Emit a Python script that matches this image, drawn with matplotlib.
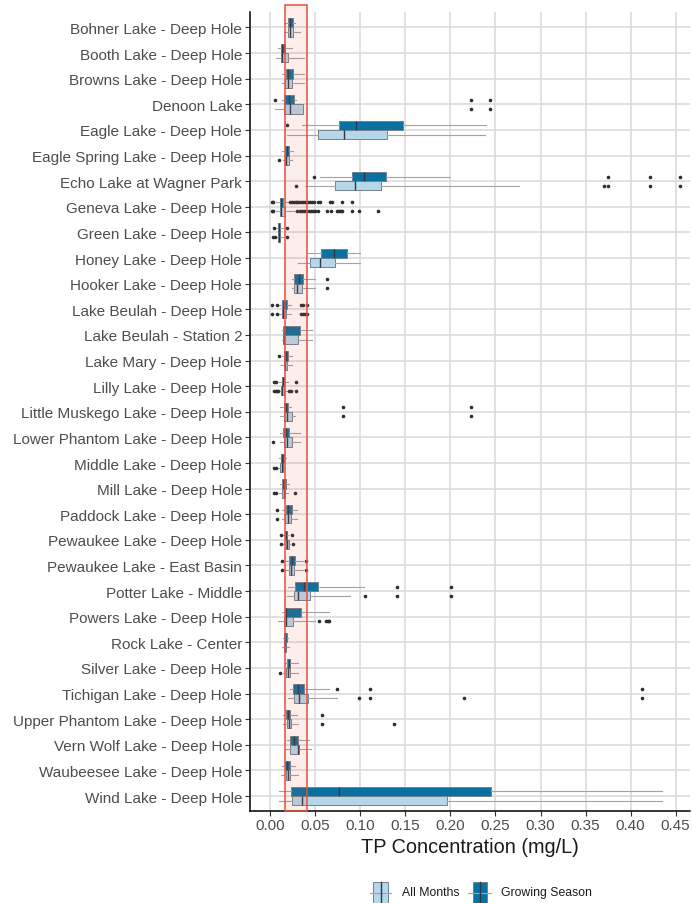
import matplotlib
matplotlib.use("Agg")
import matplotlib.pyplot as plt
from matplotlib.patches import Rectangle
from matplotlib.lines import Line2D

plt.rcParams['font.family'] = ['Liberation Sans', 'DejaVu Sans']

lakes = [
    "Bohner Lake - Deep Hole", "Booth Lake - Deep Hole", "Browns Lake - Deep Hole",
    "Denoon Lake", "Eagle Lake - Deep Hole", "Eagle Spring Lake - Deep Hole",
    "Echo Lake at Wagner Park", "Geneva Lake - Deep Hole", "Green Lake - Deep Hole",
    "Honey Lake - Deep Hole", "Hooker Lake - Deep Hole", "Lake Beulah - Deep Hole",
    "Lake Beulah - Station 2", "Lake Mary - Deep Hole", "Lilly Lake - Deep Hole",
    "Little Muskego Lake - Deep Hole", "Lower Phantom Lake - Deep Hole",
    "Middle Lake - Deep Hole", "Mill Lake - Deep Hole", "Paddock Lake - Deep Hole",
    "Pewaukee Lake - Deep Hole", "Pewaukee Lake - East Basin", "Potter Lake - Middle",
    "Powers Lake - Deep Hole", "Rock Lake - Center", "Silver Lake - Deep Hole",
    "Tichigan Lake - Deep Hole", "Upper Phantom Lake - Deep Hole",
    "Vern Wolf Lake - Deep Hole", "Waubeesee Lake - Deep Hole", "Wind Lake - Deep Hole",
]

# Growing season summary statistics (mg/L)
gs_lo = [0.0156, 0.0089, 0.0126, 0.0126, 0.035, 0.0126, 0.055, 0.006, 0.006, 0.041,
         0.0237, 0.0096, 0.0126, 0.0133, 0.0096, 0.0107, 0.0107, 0.0096, 0.0107, 0.0126,
         0.0144, 0.0156, 0.020, 0.0126, 0.0137, 0.0156, 0.0219, 0.0137, 0.018, 0.0126, 0.010]
gs_q1 = [0.0200, 0.0119, 0.0174, 0.0152, 0.076, 0.0159, 0.091, 0.0107, 0.0089, 0.0567,
         0.0267, 0.0126, 0.0144, 0.0156, 0.0126, 0.0148, 0.0144, 0.0115, 0.0133, 0.0170,
         0.0159, 0.0207, 0.0274, 0.0159, 0.0152, 0.0185, 0.0248, 0.0174, 0.0219, 0.0163, 0.023]
gs_med = [0.0222, 0.0126, 0.0193, 0.0211, 0.0956, 0.0185, 0.104, 0.0122, 0.0100, 0.0704,
          0.0315, 0.0148, 0.0163, 0.0174, 0.0137, 0.0178, 0.0174, 0.0130, 0.0152, 0.0200,
          0.0170, 0.0237, 0.0374, 0.0174, 0.0167, 0.0204, 0.0304, 0.0200, 0.0267, 0.0189, 0.0767]
gs_q3 = [0.0248, 0.0159, 0.0248, 0.0263, 0.147, 0.0211, 0.128, 0.0141, 0.0111, 0.0848,
         0.0367, 0.0181, 0.0333, 0.0193, 0.0156, 0.0200, 0.0211, 0.0148, 0.0170, 0.0237,
         0.0189, 0.0270, 0.053, 0.0344, 0.0181, 0.0222, 0.0374, 0.0219, 0.0311, 0.0219, 0.245]
gs_hi = [0.0274, 0.0237, 0.0370, 0.0285, 0.240, 0.0255, 0.199, 0.020, 0.014, 0.099,
         0.0496, 0.0230, 0.0467, 0.0244, 0.0200, 0.0230, 0.0330, 0.0170, 0.0211, 0.0293,
         0.0200, 0.0367, 0.104, 0.065, 0.0200, 0.0304, 0.065, 0.0293, 0.043, 0.0274, 0.435]
gs_out = [
    [], [], [], [0.005, 0.223, 0.244], [0.019], [], [0.048, 0.375, 0.422, 0.455],
    [0.002, 0.003, 0.022, 0.024, 0.026, 0.028, 0.030, 0.032, 0.034, 0.036, 0.038, 0.040,
     0.042, 0.044, 0.046, 0.048, 0.053, 0.055, 0.066, 0.068, 0.080, 0.091],
    [0.0044, 0.018], [], [0.0626], [0.0022, 0.0074, 0.0337, 0.036, 0.041], [], [0.010],
    [0.0041, 0.0063, 0.028], [0.081, 0.223], [], [], [], [0.0074], [0.0119, 0.0237],
    [0.0133, 0.0392], [0.141, 0.201], [], [], [], [0.0737, 0.111, 0.413], [0.0578], [], [], [],
]

# All months summary statistics (mg/L)
am_lo = [0.0156, 0.0059, 0.0126, 0.0052, 0.018, 0.0137, 0.0386, 0.006, 0.006, 0.031,
         0.0237, 0.0096, 0.0126, 0.0119, 0.0096, 0.0107, 0.0107, 0.0081, 0.0096, 0.0126,
         0.0144, 0.0156, 0.018, 0.0089, 0.0133, 0.0144, 0.020, 0.0137, 0.0163, 0.0119, 0.010]
am_q1 = [0.0200, 0.0119, 0.0167, 0.0156, 0.053, 0.0159, 0.072, 0.0107, 0.0089, 0.044,
         0.0267, 0.0126, 0.0144, 0.0148, 0.0122, 0.0156, 0.0148, 0.0111, 0.0133, 0.0163,
         0.0170, 0.0204, 0.0263, 0.0156, 0.0148, 0.0178, 0.0263, 0.0180, 0.0222, 0.0170, 0.0244]
am_med = [0.0215, 0.0133, 0.0193, 0.0219, 0.082, 0.0178, 0.0945, 0.0120, 0.0096, 0.0556,
          0.0300, 0.0141, 0.0156, 0.0167, 0.0133, 0.0181, 0.0180, 0.0126, 0.0148, 0.0193,
          0.0185, 0.0230, 0.0304, 0.0174, 0.0159, 0.0200, 0.0322, 0.0207, 0.0304, 0.0193, 0.0356]
am_q3 = [0.0248, 0.0193, 0.0237, 0.0359, 0.130, 0.0211, 0.123, 0.0163, 0.0111, 0.0715,
         0.0356, 0.0170, 0.0310, 0.0185, 0.0152, 0.0237, 0.0237, 0.0144, 0.0167, 0.0230,
         0.0204, 0.0267, 0.0444, 0.0256, 0.0174, 0.0222, 0.0415, 0.0230, 0.0319, 0.0219, 0.196]
am_hi = [0.0330, 0.0378, 0.0370, 0.0360, 0.238, 0.0240, 0.276, 0.028, 0.014, 0.099,
         0.0496, 0.0230, 0.0467, 0.0244, 0.0190, 0.0274, 0.0330, 0.0163, 0.0200, 0.0293,
         0.0222, 0.0367, 0.0885, 0.0496, 0.0211, 0.0304, 0.0737, 0.0304, 0.045, 0.0311, 0.435]
am_out = [
    [], [], [], [0.223, 0.244], [], [0.0096], [0.028, 0.371, 0.375, 0.422, 0.455],
    [0.002, 0.003, 0.030, 0.0325, 0.035, 0.0375, 0.040, 0.0425, 0.045, 0.0475, 0.050,
     0.0525, 0.063, 0.067, 0.074, 0.076, 0.078, 0.080, 0.091, 0.0985, 0.119],
    [0.0033, 0.0052, 0.018], [], [0.0626], [0.0022, 0.0074, 0.0337, 0.036, 0.0385, 0.041],
    [], [], [0.0044, 0.0059, 0.0074, 0.0089, 0.021, 0.023, 0.028], [0.081, 0.223], [0.003],
    [0.0037, 0.0059], [0.004, 0.006, 0.027], [0.0074], [0.012, 0.0256], [0.0133, 0.0392],
    [0.105, 0.141, 0.201], [0.054, 0.0615, 0.0637, 0.065], [], [0.0104],
    [0.0985, 0.111, 0.215, 0.413], [0.0578, 0.137], [], [], [],
]

target_band = (0.0167, 0.0404)
x_ticks = [0.00, 0.05, 0.10, 0.15, 0.20, 0.25, 0.30, 0.35, 0.40, 0.45]

DARK = '#0a71a0'
LIGHT = '#b6d6ea'
TXT = '#4d4d4d'
GRID = '#d9d9d9'

fig = plt.figure(figsize=(6.92, 9.04), dpi=100)
W, H = 692.0, 904.0
ax = fig.add_axes([250 / W, 1 - 811.7 / H, 440 / W, (811.7 - 13.3) / H])

n = len(lakes)
ypos = list(range(n))
off, bw = 0.18, 0.36


def stats(lo, q1, med, q3, hi, out):
    return [dict(whislo=a, q1=b, med=c, q3=d, whishi=e, fliers=f)
            for a, b, c, d, e, f in zip(lo, q1, med, q3, hi, out)]


def draw(st, pos, fill):
    kw = dict(positions=pos, widths=bw, patch_artist=True, showcaps=False,
              boxprops=dict(facecolor=fill, edgecolor='#6f8290', linewidth=0.7),
              whiskerprops=dict(color='#a3a3a3', linewidth=0.8),
              medianprops=dict(color='#2a3a46', linewidth=1.0),
              flierprops=dict(marker='o', markerfacecolor='#2e2e2e',
                              markeredgecolor='none', markersize=2.6),
              zorder=3)
    try:
        ax.bxp(st, orientation='horizontal', **kw)
    except TypeError:
        ax.bxp(st, vert=False, **kw)


draw(stats(gs_lo, gs_q1, gs_med, gs_q3, gs_hi, gs_out), [y - off for y in ypos], DARK)
draw(stats(am_lo, am_q1, am_med, am_q3, am_hi, am_out), [y + off for y in ypos], LIGHT)

ax.set_ylim(n - 1 + 0.57, -0.59)
ax.set_xlim(-0.0226, 0.466)
ax.set_yticks(ypos)
ax.set_yticklabels(lakes)
ax.set_xticks(x_ticks)
ax.set_xticklabels([f"{v:.2f}" for v in x_ticks])

ax.set_axisbelow(True)
ax.grid(True, color=GRID, linewidth=1.1, zorder=0)
for s in ('top', 'right'):
    ax.spines[s].set_visible(False)
for s in ('left', 'bottom'):
    ax.spines[s].set_linewidth(1.1)
    ax.spines[s].set_color('black')

ax.tick_params(axis='both', length=3.6, width=0.8, color='#333333',
               labelcolor=TXT, labelsize=11, pad=2)
ax.set_xlabel("TP Concentration (mg/L)", fontsize=14.3, color='#1a1a1a', labelpad=3)

# Target concentration band, drawn above the boxes
band = Rectangle((target_band[0], -0.89), target_band[1] - target_band[0],
                 n - 1 + 0.57 + 0.89, facecolor=(0.94, 0.32, 0.25, 0.10),
                 edgecolor='#e8503c', linewidth=1.1, zorder=6, clip_on=False)
ax.add_patch(band)


# Legend keys at the bottom
def px(x, y):
    return x / W, 1 - y / H


def key(x0, x1, wl, wr, fill, label, tx):
    yc = 893.5
    fig.add_artist(Line2D([px(wl, 0)[0], px(wr, 0)[0]], [px(0, yc)[1]] * 2,
                          color='#a3a3a3', linewidth=0.8, transform=fig.transFigure))
    fig.add_artist(Rectangle(px(x0, 904), (x1 - x0) / W, (904 - 883) / H,
                             facecolor=fill, edgecolor='#6f8290', linewidth=0.7,
                             transform=fig.transFigure))
    xm = (x0 + x1) / 2
    fig.add_artist(Line2D([px(xm, 0)[0]] * 2, [px(0, 883)[1], px(0, 904)[1]],
                          color='#2a3a46', linewidth=1.0, transform=fig.transFigure))
    fig.text(tx / W, 1 - yc / H, label, fontsize=8.8, color='#1a1a1a',
             ha='left', va='center')


key(373.3, 387.7, 370, 391, LIGHT, "All Months", 401.7)
key(472.7, 486.7, 468, 490.7, DARK, "Growing Season", 500.7)

fig.savefig("out.png", dpi=100)
